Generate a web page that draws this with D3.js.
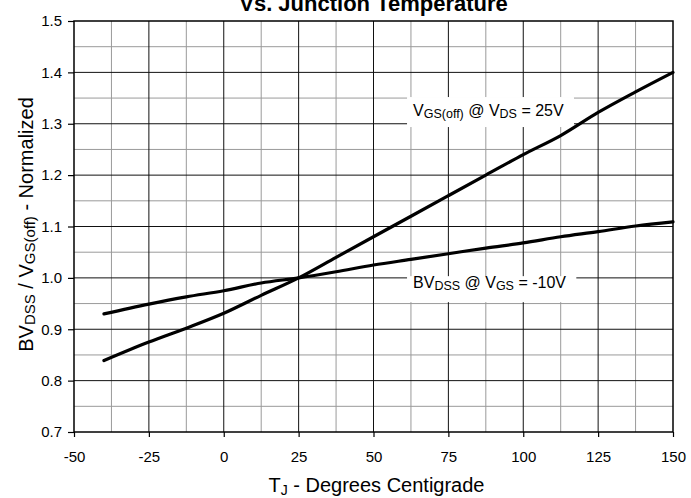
<!DOCTYPE html>
<html><head><meta charset="utf-8">
<script src="https://cdn.jsdelivr.net/npm/d3@7"></script>
<style>body{margin:0;background:#fff} text{font-family:"Liberation Sans",Arial,Helvetica,sans-serif;fill:#000}</style>
</head><body><svg id="c" width="691" height="498"></svg>
<script>
// Data
const tempC  = [-40, -25, -12.5, 0, 12.5, 25, 37.5, 50, 62.5, 75, 87.5, 100, 112.5, 125, 137.5, 150];
const vgsOff = [0.839, 0.875, 0.902, 0.931, 0.966, 1.0, 1.04, 1.08, 1.12, 1.16, 1.2, 1.24, 1.277, 1.322, 1.362, 1.40];
const bvDss  = [0.93, 0.949, 0.963, 0.975, 0.99, 1.0, 1.012, 1.025, 1.036, 1.047, 1.058, 1.068, 1.08, 1.09, 1.101, 1.109];
const xTicks = [-50, -25, 0, 25, 50, 75, 100, 125, 150];
const yTicks = [0.7, 0.8, 0.9, 1.0, 1.1, 1.2, 1.3, 1.4, 1.5];
const xTickLabels = ["-50", "-25", "0", "25", "50", "75", "100", "125", "150"];
const yTickLabels = ["0.7", "0.8", "0.9", "1.0", "1.1", "1.2", "1.3", "1.4", "1.5"];

const svg = d3.select("#c");
const L = 74, R = 673, T = 21, B = 432;
const x = d3.scaleLinear().domain([-50, 150]).range([L, R]);
const y = d3.scaleLinear().domain([0.7, 1.5]).range([B, T]);

// grid
const g = svg.append("g");
const vMinor = d3.range(-37.5, 150, 25);
const hMinor = d3.range(0.75, 1.5, 0.1);
g.selectAll(".vm").data(vMinor).join("line")
  .attr("x1", d => x(d)).attr("x2", d => x(d)).attr("y1", T).attr("y2", B)
  .attr("stroke", "#9a9a9a").attr("stroke-width", 1);
g.selectAll(".hm").data(hMinor).join("line")
  .attr("x1", L).attr("x2", R).attr("y1", d => y(d)).attr("y2", d => y(d))
  .attr("stroke", "#9a9a9a").attr("stroke-width", 1);
g.selectAll(".vM").data(xTicks.slice(1, -1)).join("line")
  .attr("x1", d => x(d)).attr("x2", d => x(d)).attr("y1", T).attr("y2", B)
  .attr("stroke", "#111").attr("stroke-width", 1);
g.selectAll(".hM").data(yTicks.slice(1, -1)).join("line")
  .attr("x1", L).attr("x2", R).attr("y1", d => y(d)).attr("y2", d => y(d))
  .attr("stroke", "#111").attr("stroke-width", 1);

// axes
const xAxis = d3.axisBottom(x).tickValues(xTicks).tickFormat((d, i) => xTickLabels[i]).tickSize(5).tickPadding(14);
const yAxis = d3.axisLeft(y).tickValues(yTicks).tickFormat((d, i) => yTickLabels[i]).tickSize(6).tickPadding(6);
const gx = svg.append("g").attr("transform", `translate(0,${B})`).call(xAxis);
const gy = svg.append("g").attr("transform", `translate(${L},0)`).call(yAxis);
[gx, gy].forEach(a => {
  a.select(".domain").remove();
  a.selectAll("line").attr("stroke", "#000").attr("stroke-width", 1.2);
  a.selectAll("text").style("font-size", "15px").attr("fill", "#000");
});
svg.append("rect").attr("x", L).attr("y", T).attr("width", R - L).attr("height", B - T)
  .attr("fill", "none").attr("stroke", "#000").attr("stroke-width", 1.5);

// label boxes
const labels = [
  {tx: 63.2, ty: 1.315, top: 19, bot: 11, parts: [["V",0],["GS(off)",1],[" @ V",0],["DS",1],[" = 25V",0]]},
  {tx: 63.2, ty: 0.98, top: 12, bot: 14, parts: [["BV",0],["DSS",1],[" @ V",0],["GS",1],[" = -10V",0]]}
];
labels.forEach(lb => {
  const rect = svg.append("rect").attr("fill", "#fff");
  const t = svg.append("text").attr("x", x(lb.tx)).attr("y", y(lb.ty)).style("font-size", "16px");
  lb.parts.forEach((p, i) => {
    const ts = t.append("tspan").text(p[0]);
    const prevSub = i > 0 && lb.parts[i - 1][1];
    if (p[1]) ts.style("font-size", "12.5px").attr("dy", 2);
    else ts.attr("dy", prevSub ? -2 : 0);
  });
  const bb = t.node().getBBox();
  rect.attr("x", bb.x - 6).attr("width", bb.width + 16)
      .attr("y", y(lb.ty) - lb.top).attr("height", lb.top + lb.bot);
});

// curves
const line = d3.line().curve(d3.curveMonotoneX);
[vgsOff, bvDss].forEach(s => {
  svg.append("path").attr("d", line(tempC.map((t, i) => [x(t), y(s[i])])))
    .attr("fill", "none").attr("stroke", "#000").attr("stroke-width", 3.2).attr("stroke-linecap", "round");
});

// titles
svg.append("text").attr("x", (L + R) / 2).attr("y", 11).attr("text-anchor", "middle")
  .style("font-size", "22px").style("font-weight", "bold").text("Vs. Junction Temperature");

const xt = svg.append("text").attr("x", (L + R) / 2 + 3).attr("y", 492).attr("text-anchor", "middle").style("font-size", "20px");
xt.append("tspan").text("T");
xt.append("tspan").text("J").style("font-size", "14px").attr("dy", 3);
xt.append("tspan").text(" - Degrees Centigrade").attr("dy", -3);

const yt = svg.append("text").attr("transform", `translate(33,${(T + B) / 2 - 2}) rotate(-90)`)
  .attr("text-anchor", "middle").style("font-size", "20px");
yt.append("tspan").text("BV");
yt.append("tspan").text("DSS").style("font-size", "15px").attr("dy", 1.5);
yt.append("tspan").text(" / V").attr("dy", -1.5);
yt.append("tspan").text("GS(off)").style("font-size", "15px").attr("dy", 1.5);
yt.append("tspan").text(" - Normalized").attr("dy", -1.5);
</script></body></html>
